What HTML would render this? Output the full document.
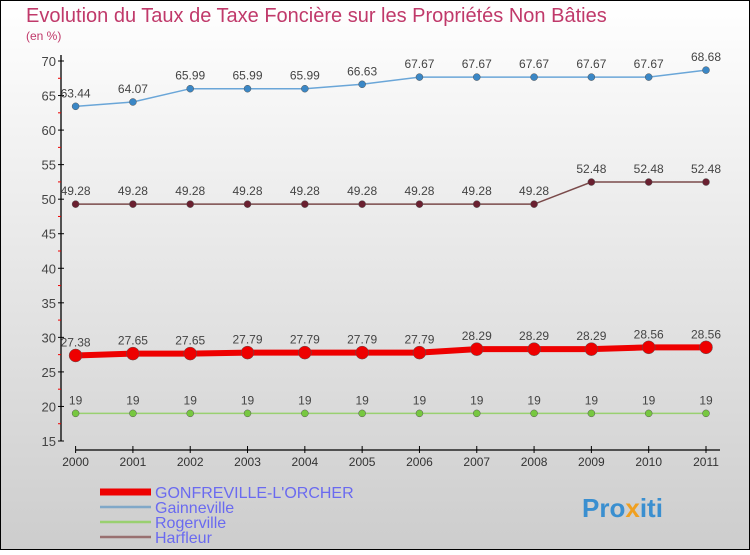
<!DOCTYPE html>
<html><head><meta charset="utf-8">
<style>
html,body{margin:0;padding:0;}
body{width:750px;height:550px;overflow:hidden;font-family:"Liberation Sans",sans-serif;}
</style></head>
<body>
<svg id="chart" width="750" height="550" xmlns="http://www.w3.org/2000/svg">
<defs><linearGradient id="bg" x1="0" y1="0" x2="0" y2="1"><stop offset="0" stop-color="#ffffff"/><stop offset="1" stop-color="#cdcdcd"/></linearGradient></defs>
<rect x="0.5" y="0.5" width="749" height="549" fill="url(#bg)" stroke="#000" stroke-width="1"/>
<text x="26" y="22" font-size="20" fill="#c0396a">Evolution du Taux de Taxe Foncière sur les Propriétés Non Bâties</text>
<text x="26" y="40" font-size="12" fill="#c0396a">(en %)</text>
<g id="axes"></g>
<g id="series"></g>
<g id="legend"></g>
<text x="582" y="517" font-size="26" font-weight="bold" fill="#3a8fd0">Pro<tspan fill="#f0a020">x</tspan>iti</text>
</svg>
<script>
const years = ["2000","2001","2002","2003","2004","2005","2006","2007","2008","2009","2010","2011"];
const yTicks = [15,20,25,30,35,40,45,50,55,60,65,70];
const gonfreville = [27.38,27.65,27.65,27.79,27.79,27.79,27.79,28.29,28.29,28.29,28.56,28.56];
const gainneville = [63.44,64.07,65.99,65.99,65.99,66.63,67.67,67.67,67.67,67.67,67.67,68.68];
const rogerville = [19,19,19,19,19,19,19,19,19,19,19,19];
const harfleur = [49.28,49.28,49.28,49.28,49.28,49.28,49.28,49.28,49.28,52.48,52.48,52.48];

const NS="http://www.w3.org/2000/svg";
function el(tag,attrs,parent,text){const e=document.createElementNS(NS,tag);for(const k in attrs)e.setAttribute(k,attrs[k]);if(text!==undefined)e.textContent=text;parent.appendChild(e);return e;}
const xS=i=>75.6+i*(706-75.6)/(years.length-1);
const yS=v=>441-(v-15)*380/55;
const axes=document.getElementById('axes');
const ya=el('line',{x1:61,y1:yS(70)-6,x2:61,y2:yS(15),stroke:'#000','stroke-width':1.3},axes);


yTicks.forEach(t=>{
  const y=yS(t);
  el('line',{x1:58,y1:y,x2:64,y2:y,stroke:'#000'},axes);
  if(t<70) el('line',{x1:58,y1:yS(t+2.5),x2:61,y2:yS(t+2.5),stroke:'#e00'},axes);
  const lb=el('text',{x:56,y:y+5,'text-anchor':'end','font-size':13,fill:'#444'},axes,String(t));
  
  
});
const xa=el('line',{x1:75.6,y1:450,x2:720,y2:450,stroke:'#000','stroke-width':1.3},axes);


years.forEach((yr,i)=>{
  const x=xS(i);
  el('line',{x1:x,y1:446,x2:x,y2:453,stroke:'#000'},axes);
  const lb=el('text',{x:x,y:466,'text-anchor':'middle','font-size':12,fill:'#333'},axes,yr);
  
  
});
const series=document.getElementById('series');
function draw(name,vals,color,dot,w,r){
  const g=el('g',{},series);
  
  
  el('polyline',{points:vals.map((v,i)=>xS(i)+','+yS(v)).join(' '),fill:'none',stroke:color,'stroke-width':w},g);
  vals.forEach((v,i)=>{
    const c=el('circle',{cx:xS(i),cy:yS(v),r:r,fill:dot,stroke:'#555','stroke-width':0.5},g);
    
    
    const t=el('text',{x:xS(i),y:yS(v)-9,'text-anchor':'middle','font-size':12,fill:'#444'},g,String(v));
    
    
  });
}
draw('gainneville',gainneville,'#6aa6d8','#3a87c6',1.5,3.5);
draw('harfleur',harfleur,'#7a4a4a','#6a2030',1.5,3.5);
draw('rogerville',rogerville,'#99d070','#77c840',1.5,3.5);
draw('gonfreville',gonfreville,'#ee0000','#ee0000',6,6.5);
const legend=document.getElementById('legend');
const items=[["GONFREVILLE-L'ORCHER",'#ee0000',7],['Gainneville','#80a8c8',2.5],['Rogerville','#99d070',2.5],['Harfleur','#987070',2.5]];
items.forEach((it,i)=>{
  const y=492+i*15;
  const g=el('g',{},legend);
  
  
  el('line',{x1:100,y1:y,x2:151,y2:y,stroke:it[1],'stroke-width':it[2]},g);
  el('text',{x:155,y:y+6,'font-size':16,fill:'#6a6af0'},g,it[0]);
});
</script>
</body></html>
